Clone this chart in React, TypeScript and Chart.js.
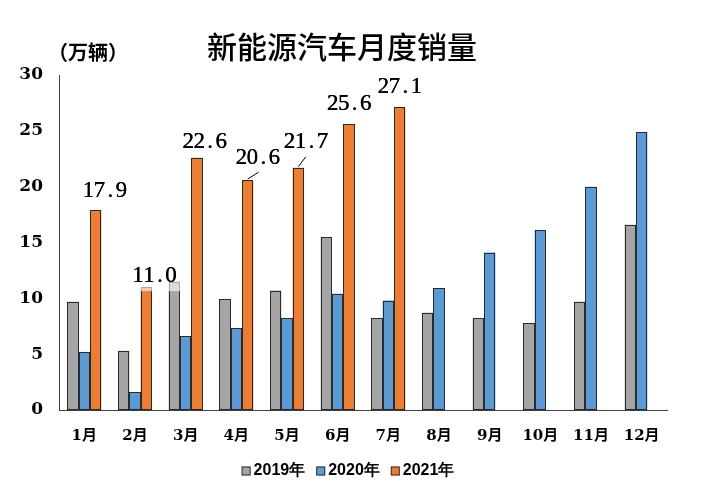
import { useEffect, useRef } from "react";
import { Chart, registerables } from "chart.js";

Chart.register(...registerables);

const months = ["1月", "2月", "3月", "4月", "5月", "6月", "7月", "8月", "9月", "10月", "11月", "12月"];
const sales2019 = [9.7, 5.3, 11.5, 9.9, 10.7, 15.5, 8.2, 8.7, 8.2, 7.8, 9.7, 16.6];
const sales2020 = [5.2, 1.6, 6.6, 7.3, 8.2, 10.4, 9.8, 10.9, 14.1, 16.1, 20.0, 24.9];
const sales2021 = [17.9, 11.0, 22.6, 20.6, 21.7, 25.6, 27.1, null, null, null, null, null];
const seriesNames = ["2019年", "2020年", "2021年"];
const yMin = 0;
const yMax = 30;
const yStep = 5;
const titleText = "新能源汽车月度销量";
const unitText = "（万辆）";

// label placement (style): offsets of value labels relative to the bar top
const labelOffsets: [number, number][] = [
  [9, -20], [8, -12], [7.5, -17], [10, -23], [7.5, -27], [0, -21], [0, -21],
];
const leaderEnds: ([number, number] | null)[] = [
  null, null, null, [10.9, -7.7], [7.5, -10.9], null, null,
];

const colors = ["#A5A5A5", "#5B9BD5", "#ED7D31"];

const overlayPlugin = {
  id: "overlay",
  afterDatasetsDraw(chart: any) {
    const ctx = chart.ctx;
    ctx.save();
    // bar outlines
    ctx.strokeStyle = "#2a2a2a";
    ctx.lineWidth = 1;
    chart.data.datasets.forEach((_: any, di: number) => {
      const m = chart.getDatasetMeta(di);
      m.data.forEach((bar: any, i: number) => {
        const v = chart.data.datasets[di].data[i];
        if (v == null) return;
        const l = Math.round(bar.x - bar.width / 2) + 0.5;
        const r = Math.round(bar.x + bar.width / 2) - 0.5;
        const t = Math.round(bar.y) + 0.5;
        const b = Math.round(bar.base) - 0.5;
        ctx.strokeRect(l, t, r - l, b - t);
      });
    });
    const meta = chart.getDatasetMeta(2);
    meta.data.forEach((bar: any, i: number) => {
      const v = sales2021[i];
      if (v == null) return;
      const off = labelOffsets[i] || [0, -20];
      const cx = bar.x + off[0];
      const cy = bar.y + off[1];
      const txt = v.toFixed(1);
      const cell = 11;
      ctx.fillStyle = "rgba(255,255,255,0.6)";
      ctx.fillRect(cx - 27, cy - 16, 54, 32);
      const le = leaderEnds[i];
      if (le) {
        ctx.strokeStyle = "#000";
        ctx.lineWidth = 1;
        ctx.beginPath();
        ctx.moveTo(bar.x, bar.y - 1);
        ctx.lineTo(bar.x + le[0], bar.y + le[1]);
        ctx.stroke();
      }
      ctx.fillStyle = "#000";
      ctx.font = '23px "Liberation Serif", serif';
      ctx.textAlign = "center";
      ctx.textBaseline = "middle";
      const start = cx - (txt.length * cell) / 2 + cell / 2;
      for (let k = 0; k < txt.length; k++) {
        ctx.fillText(txt[k], start + k * cell, cy + 1);
        ctx.fillText(txt[k], start + k * cell + 0.4, cy + 1);
      }
    });
    ctx.restore();
  },
  afterDraw(chart: any) {
    const ctx = chart.ctx;
    ctx.save();
    // title
    ctx.fillStyle = "#000";
    ctx.font = '500 30px "Noto Sans CJK SC", sans-serif';
    ctx.textAlign = "center";
    ctx.textBaseline = "middle";
    ctx.fillText(titleText, 342, 47);
    // unit
    ctx.font = 'bold 20px "Noto Sans CJK SC", sans-serif';
    ctx.textAlign = "left";
    ctx.fillText(unitText, 48, 52);
    // legend
    ctx.font = 'bold 16px "Liberation Sans", sans-serif';
    ctx.textBaseline = "middle";
    const box = 9;
    const gapBox = 3;
    const gapItem = 11;
    const widths = seriesNames.map((n) => ctx.measureText(n).width);
    const total = widths.reduce((a, w) => a + box + gapBox + w, 0) + gapItem * (seriesNames.length - 1);
    let x = 348 - total / 2;
    const y = 471;
    seriesNames.forEach((n, i) => {
      ctx.fillStyle = colors[i];
      ctx.fillRect(x, y - box / 2, box, box);
      ctx.strokeStyle = "#333";
      ctx.lineWidth = 1;
      ctx.strokeRect(x + 0.5, y - box / 2 + 0.5, box - 1, box - 1);
      ctx.fillStyle = "#000";
      ctx.fillText(n, x + box + gapBox, y);
      x += box + gapBox + widths[i] + gapItem;
    });
    ctx.restore();
  },
};

export default function App() {
  const canvasRef = useRef<HTMLCanvasElement>(null);

  useEffect(() => {
    if (!canvasRef.current) return;
    const chart = new Chart(canvasRef.current, {
      type: "bar",
      data: {
        labels: months,
        datasets: [sales2019, sales2020, sales2021].map((d, i) => ({
          label: seriesNames[i],
          data: d as any,
          backgroundColor: colors[i],
          borderWidth: 0,
          barPercentage: 1,
          categoryPercentage: 0.67,
        })),
      },
      options: {
        animation: false,
        responsive: true,
        maintainAspectRatio: false,
        layout: { padding: { left: 0, right: 36, top: 75, bottom: 43 } },
        plugins: {
          legend: { display: false },
          title: { display: false },
          tooltip: { enabled: false },
        },
        scales: {
          x: {
            grid: { display: false, drawTicks: false },
            border: { display: true, color: "#404040", width: 1 },
            ticks: {
              padding: 17,
              color: "#000",
              font: { family: '"DejaVu Serif", "Noto Sans CJK SC", serif', size: 15, weight: "bold" },
              maxRotation: 0,
            },
            afterFit(scale: any) {
              scale.height = 40;
            },
          },
          y: {
            min: yMin,
            max: yMax,
            grid: { display: false, drawTicks: false },
            border: { display: true, color: "#404040", width: 1 },
            ticks: {
              stepSize: yStep,
              padding: 16,
              color: "#000",
              font: { family: '"DejaVu Serif", serif', size: 17, weight: "bold" },
            },
            afterFit(scale: any) {
              scale.width = 59;
            },
          },
        },
      },
      plugins: [overlayPlugin],
    });
    return () => chart.destroy();
  }, []);

  return (
    <div style={{ position: "absolute", left: 0, top: 0, width: 703, height: 493, background: "#fff" }}>
      <canvas ref={canvasRef} />
    </div>
  );
}
